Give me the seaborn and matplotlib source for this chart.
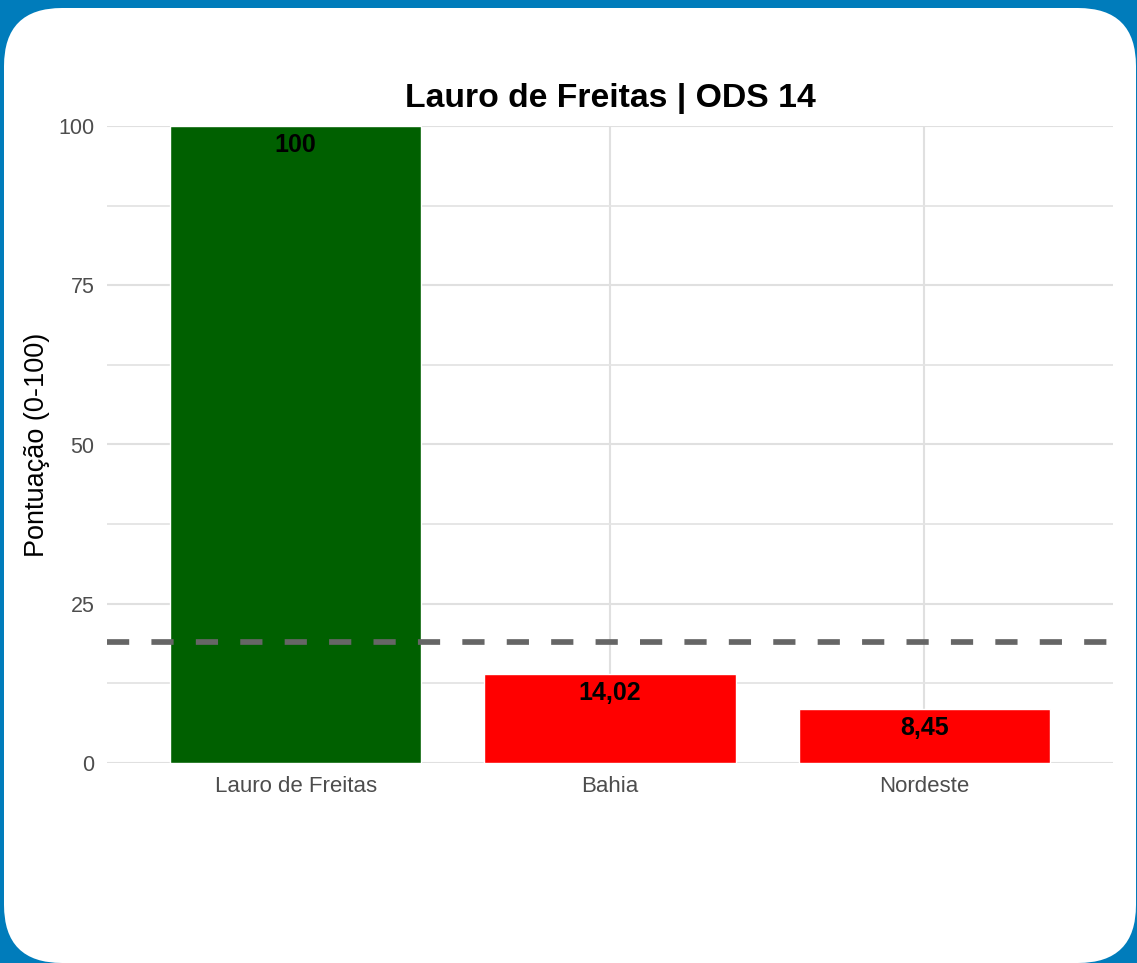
import matplotlib
matplotlib.use("Agg")
import matplotlib.pyplot as plt
from matplotlib.patches import FancyBboxPatch
from matplotlib.transforms import IdentityTransform
from matplotlib.ticker import FixedLocator
import seaborn as sns
import pandas as pd

# Data
regioes = ["Lauro de Freitas", "Bahia", "Nordeste"]
pontuacao = [100, 14.02, 8.45]
cores = ["#006000", "#FF0000", "#FF0000"]
media_referencia = 19.0
titulo = "Lauro de Freitas | ODS 14"
rotulo_y = "Pontuação (0-100)"

sns.set_theme(style="white")
plt.rcParams["font.family"] = ["Liberation Sans", "DejaVu Sans"]

W, H, DPI = 1137, 963, 100
fig = plt.figure(figsize=(W / DPI, H / DPI), dpi=DPI, facecolor="#007CBB")

# White card with rounded corners, behind the axes
card = FancyBboxPatch((4, 0), 1132, 955,
                      boxstyle="round,pad=0,rounding_size=58",
                      transform=IdentityTransform(), facecolor="white",
                      edgecolor="none", zorder=-10)
fig.patches.append(card)

ax = fig.add_axes([107 / W, 1 - 763 / H, (1113 - 107) / W, (763 - 126) / H])
ax.set_facecolor("none")

df = pd.DataFrame({"regiao": regioes, "valor": pontuacao})
sns.barplot(data=df, x="regiao", y="valor", hue="regiao",
            palette=dict(zip(regioes, cores)), order=regioes,
            width=0.8, saturation=1, legend=False, ax=ax, zorder=2)

ax.set_xlim(-0.6, len(regioes) - 0.4)
ax.set_ylim(0, 100)

# Grid
ax.yaxis.set_major_locator(FixedLocator([0, 25, 50, 75, 100]))
ax.yaxis.set_minor_locator(FixedLocator([12.5, 37.5, 62.5, 87.5]))
ax.set_axisbelow(True)
ax.grid(True, which="major", axis="both", color="#E0E0E0", linewidth=1.5, zorder=0)
ax.grid(True, which="minor", axis="y", color="#E4E4E4", linewidth=1.3, zorder=0)
for s in ax.spines.values():
    s.set_visible(False)
ax.tick_params(axis="both", which="both", length=0, labelcolor="#4D4D4D")
ax.tick_params(axis="x", pad=9, labelsize=16)
ax.tick_params(axis="y", pad=9, labelsize=15.5)

# Reference line
ax.axhline(media_referencia, color="#666666", linewidth=4.1,
           linestyle=(0, (3.9, 3.9)), zorder=3)

# Value labels inside bars
for i, v in enumerate(pontuacao):
    txt = f"{v:.2f}".replace(".", ",") if v != int(v) else f"{int(v)}"
    ax.annotate(txt, xy=(i, v), xytext=(0, -5), textcoords="offset points",
                ha="center", va="top", fontsize=18, fontweight="bold",
                color="black", zorder=4)

ax.set_xlabel("")
ax.set_ylabel(rotulo_y, fontsize=19.5, color="black", labelpad=6)
ax.set_title(titulo, fontsize=24.3, fontweight="bold", color="black", pad=14)

fig.savefig("out.png", dpi=DPI, facecolor=fig.get_facecolor())
